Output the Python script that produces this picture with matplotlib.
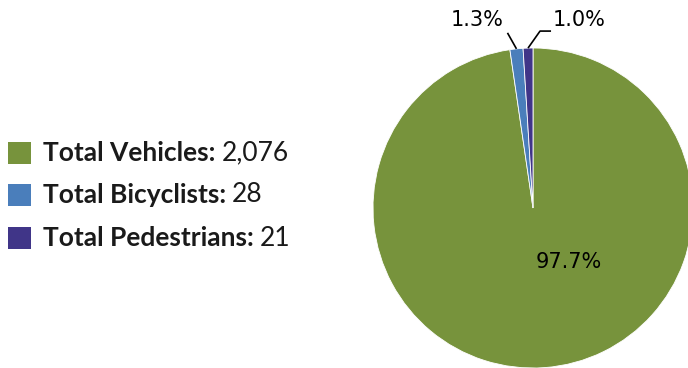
import numpy as np
import matplotlib
matplotlib.use('Agg')
import matplotlib.pyplot as plt
from matplotlib.patches import Rectangle

# data
categories = ['Total Vehicles', 'Total Bicyclists', 'Total Pedestrians']
counts = [2076, 28, 21]
count_labels = ['2,076', '28', '21']
colors = ['#77933C', '#4A7EBB', '#403588']

W, H = 688, 368
fig = plt.figure(figsize=(W / 100, H / 100), dpi=100)
ax = fig.add_axes([0, 0, 1, 1])

# pie, clockwise from 12 o'clock
cx, cy, r = 533, H - 208, 160
wedges, texts, autotexts = ax.pie(counts, colors=colors, startangle=90, counterclock=False,
                                  center=(cx, cy), radius=r, autopct='%1.1f%%',
                                  wedgeprops=dict(linewidth=0.6, edgecolor='white'),
                                  textprops=dict(fontsize=15, family='DejaVu Sans'))
ax.set_xlim(0, W)
ax.set_ylim(0, H)
ax.set_aspect('equal')
ax.axis('off')

# big slice label
autotexts[0].set_position((cx + 36, cy - 54))

# small slices: labels above with leader lines
for i, (tx, ty, path) in zip([1, 2], [(477, H - 20, [(-9, 16)]), (579, H - 20, [(12, 17), (23, 17)])]):
    w = wedges[i]
    mid = np.deg2rad((w.theta1 + w.theta2) / 2)
    x0, y0 = cx + r * np.cos(mid), cy + r * np.sin(mid)
    xs = [x0] + [x0 + dx for dx, dy in path]
    ys = [y0] + [y0 + dy for dx, dy in path]
    ax.plot(xs, ys, color='black', lw=1.2, solid_capstyle='butt')
    autotexts[i].set_position((tx, ty))
    autotexts[i].set_ha('center')
    autotexts[i].set_va('center')

# legend on the left
fig.canvas.draw()
renderer = fig.canvas.get_renderer()
row_y = [153, 195, 238]
for cat, lab, col, yy in zip(categories, count_labels, colors, row_y):
    ax.add_patch(Rectangle((8, H - yy - 11), 23, 22, facecolor=col, edgecolor='none'))
    t = ax.text(43, H - yy, cat + ':', fontsize=19, fontweight='bold', family='Lato',
                color='#1a1a1a', va='center', ha='left')
    bb = t.get_window_extent(renderer)
    ax.text(bb.x1 + 6, H - yy, lab, fontsize=19, family='Lato',
            color='#1a1a1a', va='center', ha='left')

fig.savefig('out.png', dpi=100)
